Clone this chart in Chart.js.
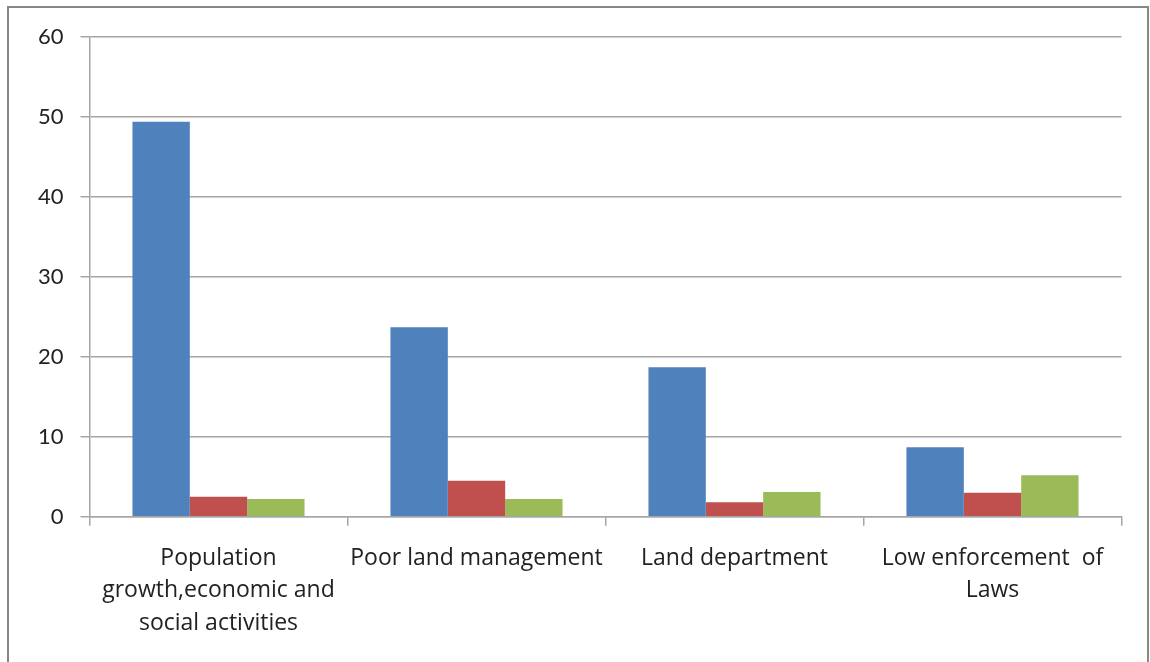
<!DOCTYPE html>
<html>
<head>
<meta charset="utf-8">
<script src="https://cdn.jsdelivr.net/npm/chart.js@4"></script>
<style>
  html, body { margin: 0; padding: 0; background: #fff; }
  #wrap { width: 1150px; height: 662px; position: relative; }
</style>
</head>
<body>
<div id="wrap"><canvas id="myChart" width="1150" height="662"></canvas></div>
<script>
const categories = [
    ['Population', 'growth,economic and', 'social activities'],
    'Poor land management',
    'Land department',
    ['Low enforcement  of', 'Laws']
];
const series1 = [49.4, 23.7, 18.7, 8.7];
const series2 = [2.5, 4.5, 1.8, 3.0];
const series3 = [2.2, 2.2, 3.1, 5.2];
const yTicks = [0, 10, 20, 30, 40, 50, 60];

const lineGray = '#a6a6a6';
const textColor = '#222222';

// outer frame round the chart
const framePlugin = {
    id: 'frame',
    beforeDraw(c) {
        const ctx = c.ctx;
        ctx.save();
        ctx.fillStyle = '#fff';
        ctx.fillRect(0, 0, c.width, c.height);
        ctx.strokeStyle = '#878787';
        ctx.lineWidth = 2;
        ctx.beginPath();
        ctx.moveTo(8, 700);
        ctx.lineTo(8, 7);
        ctx.lineTo(1148, 7);
        ctx.lineTo(1148, 700);
        ctx.stroke();
        ctx.restore();
    }
};

function makeDataset(label, data, color) {
    return {
        label: label,
        data: data,
        backgroundColor: color,
        borderWidth: 0,
        barPercentage: 1.0,
        categoryPercentage: 0.667
    };
}

const ctx = document.getElementById('myChart').getContext('2d');
new Chart(ctx, {
    type: 'bar',
    data: {
        labels: categories,
        datasets: [
            makeDataset('Series1', series1, '#4f81bd'),
            makeDataset('Series2', series2, '#c0504d'),
            makeDataset('Series3', series3, '#9bbb59')
        ]
    },
    options: {
        responsive: false,
        animation: false,
        layout: { padding: { top: 37, right: 28.5, left: 0, bottom: 0 } },
        scales: {
            x: {
                afterFit: (scale) => { scale.height = 662 - 516.7; },
                border: { color: lineGray, width: 1.5 },
                grid: {
                    offset: true,
                    drawOnChartArea: false,
                    drawTicks: true,
                    tickLength: 9,
                    color: lineGray,
                    lineWidth: 1.5
                },
                ticks: {
                    color: textColor,
                    maxRotation: 0,
                    autoSkip: false,
                    padding: 16,
                    font: { family: 'Open Sans', size: 23, lineHeight: 1.42 }
                }
            },
            y: {
                min: 0,
                max: 60,
                afterFit: (scale) => { scale.width = 89.5; },
                afterBuildTicks: (scale) => { scale.ticks = yTicks.map(v => ({ value: v })); },
                border: { color: lineGray, width: 1.5 },
                grid: {
                    color: lineGray,
                    lineWidth: 1.5,
                    drawTicks: true,
                    tickLength: 9
                },
                ticks: {
                    color: textColor,
                    padding: 17,
                    font: { family: 'Lato', size: 22 }
                }
            }
        },
        plugins: {
            legend: { display: false },
            tooltip: { enabled: false }
        }
    },
    plugins: [framePlugin]
});
</script>
</body>
</html>
